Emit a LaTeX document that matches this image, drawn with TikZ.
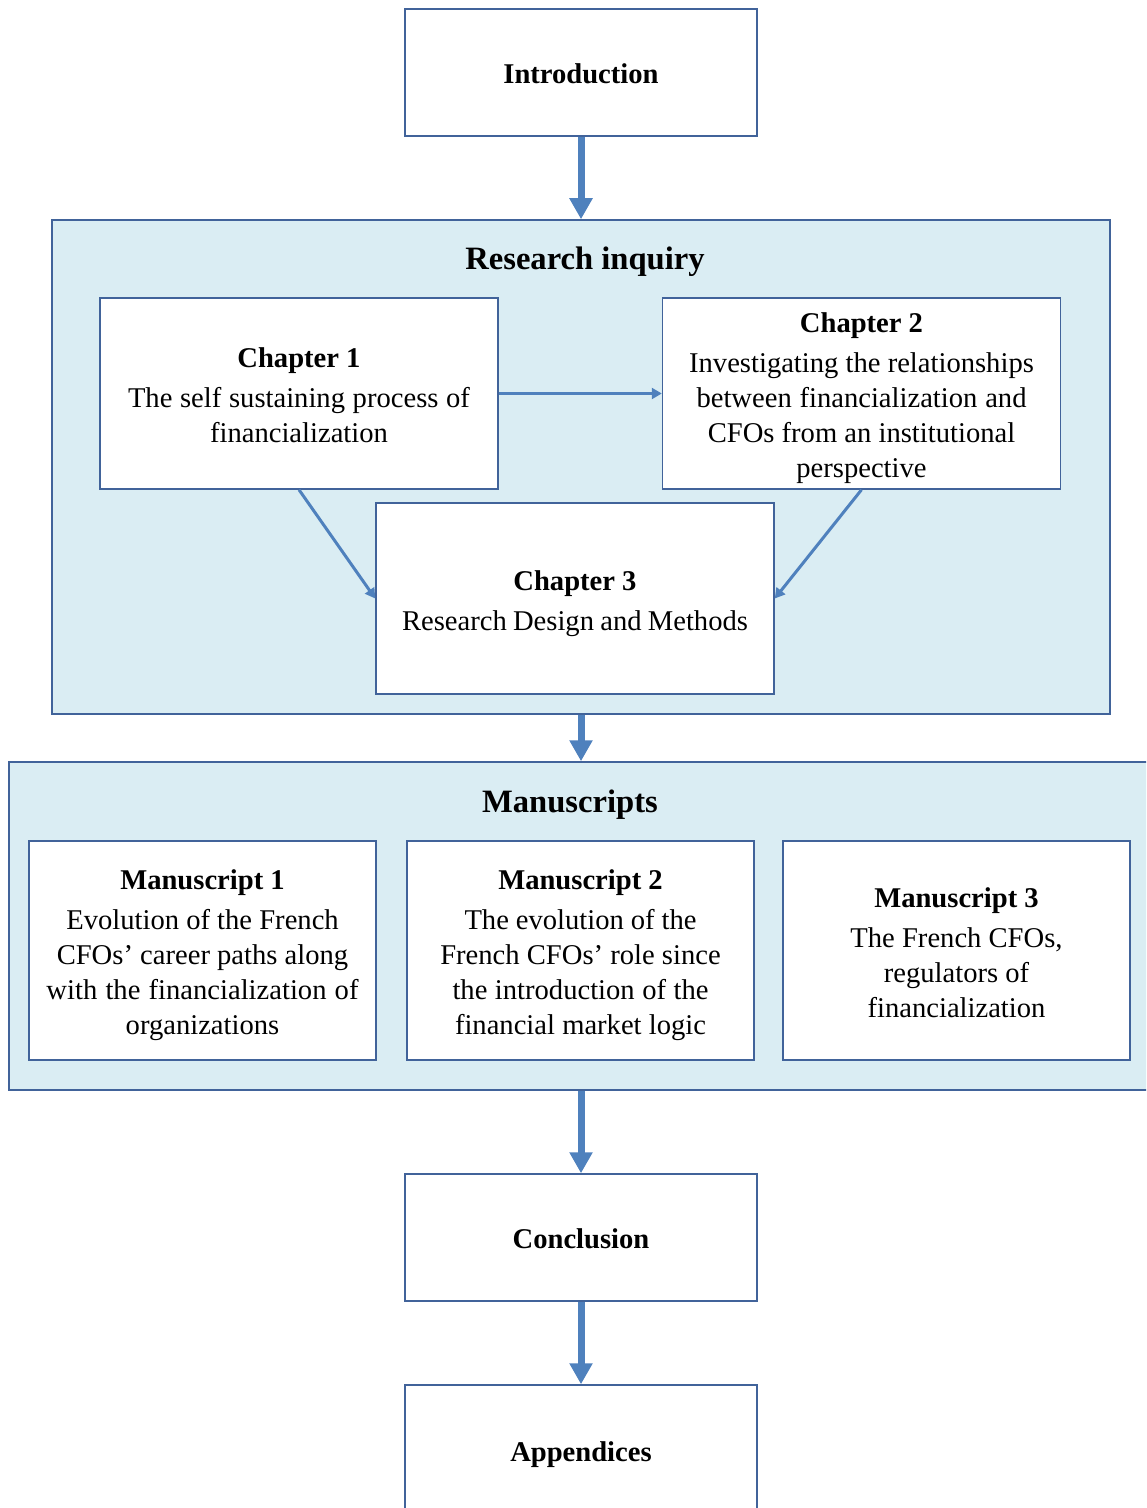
\documentclass[tikz,border=0pt]{standalone}
\usepackage{fontspec}
\setmainfont{Liberation Serif}
\usetikzlibrary{arrows.meta}
\definecolor{bordc}{HTML}{41639A}
\definecolor{arrc}{HTML}{4F81BD}
\definecolor{fillc}{HTML}{DAEDF3}
\newcommand{\toprl}{\rule{0pt}{11.5pt}}
\newcommand{\nodesc}[1]{\raisebox{0pt}[\height][0pt]{#1}}
\newcommand{\jline}[2]{\makebox[#1][s]{#2}}
\tikzset{
  wbox/.style={draw=bordc, line width=0.75pt, fill=white, align=center, inner sep=0pt,
    font=\fontsize{14.3}{17.5}\selectfont},
  bigbox/.style={draw=bordc, line width=0.75pt, fill=fillc, inner sep=0pt},
  ttl/.style={font=\fontsize{16.3}{19}\selectfont\bfseries},
  thickarr/.style={draw=arrc, line width=3.5pt, -{Triangle[width=11pt,length=10.5pt]}},
  thinarr/.style={draw=arrc, line width=1.5pt, -{Triangle[width=5.5pt,length=5pt]}}
}
\begin{document}
\begin{tikzpicture}[x=0.5pt,y=-0.5pt]
\clip (0,0) rectangle (1146,1508);
\fill[white] (0,0) rectangle (1146,1508);
% top
\node[wbox, minimum width=176pt, minimum height=63.5pt] (intro) at (581,72.5) {\toprl\textbf{Introduction}};
% research inquiry
\node[bigbox, minimum width=529pt, minimum height=247pt] (res) at (581,467) {};
\node[ttl] (restitle) at (585,261.5) {Research inquiry};
\node[wbox, minimum width=199pt, minimum height=95.5pt] (ch1) at (299,393.5)
  {\toprl\textbf{Chapter 1}\\[2.5pt] \jline{171pt}{The self sustaining process of}\\ \nodesc{financialization}};
\node[wbox, minimum width=199pt, minimum height=95.5pt] (ch2) at (861.5,393.5)
  {\toprl\textbf{Chapter 2}\\[2.5pt] Investigating the relationships\\ \jline{165pt}{between financialization and}\\ CFOs from an institutional\\ \nodesc{perspective}};
\node[wbox, minimum width=199pt, minimum height=95.5pt] (ch3) at (575,598.5)
  {\toprl\textbf{Chapter 3}\\[2.5pt] \nodesc{\jline{173pt}{Research Design and Methods}}};
% manuscripts
\node[bigbox, minimum width=580.5pt, minimum height=164pt] (mans) at (589.5,926) {};
\node[ttl] (manstitle) at (570,805) {Manuscripts};
\node[wbox, minimum width=173.5pt, minimum height=109.5pt] (ms1) at (202.5,950.5)
  {\toprl\textbf{Manuscript 1}\\[2.5pt] Evolution of the French\\ CFOs’ career paths along\\ \jline{156pt}{with the financialization of}\\ \nodesc{organizations}};
\node[wbox, minimum width=173.5pt, minimum height=109.5pt] (ms2) at (580.5,950.5)
  {\toprl\textbf{Manuscript 2}\\[2.5pt] \jline{116pt}{The evolution of the}\\ French CFOs’ role since\\ \jline{128pt}{the introduction of the}\\ \nodesc{\jline{125.5pt}{financial market logic}}};
\node[wbox, minimum width=173.5pt, minimum height=109.5pt] (ms3) at (956.5,950.5)
  {\toprl\textbf{Manuscript 3}\\[2.5pt] The French CFOs,\\ regulators of\\ \nodesc{financialization}};
% bottom
\node[wbox, minimum width=176pt, minimum height=63.5pt] (concl) at (581,1237.5) {\toprl\textbf{Conclusion}};
\node[wbox, minimum width=176pt, minimum height=65pt] (app) at (581,1450) {\toprl\nodesc{\textbf{Appendices}}};
% arrows
\draw[thickarr] (intro.south) -- (res.north);
\draw[thickarr] (res.south) -- (res.south |- mans.north);
\draw[thickarr] (concl.north |- mans.south) -- (concl.north);
\draw[thickarr] (concl.south) -- (app.north);
\draw[thinarr] (ch1.east) -- (ch2.west);
\draw[thinarr] (ch1.south) -- (ch3.west);
\draw[thinarr] (ch2.south) -- (ch3.east);
\end{tikzpicture}
\end{document}
